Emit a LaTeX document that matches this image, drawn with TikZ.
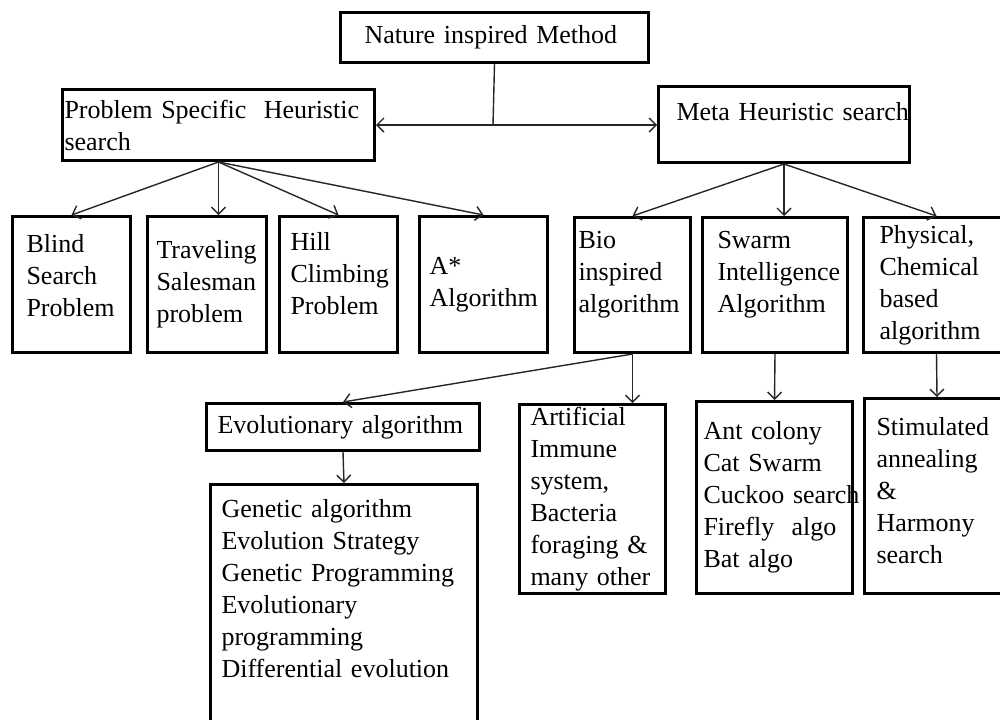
\documentclass[tikz,border=0pt]{standalone}
\usepackage{fontspec}
\setmainfont{Liberation Serif}[WordSpace=0.75]
\usetikzlibrary{arrows.meta}
\hyphenpenalty=10000
\begin{document}
\begin{tikzpicture}[x=0.5pt,y=-0.5pt,
  box/.style={draw=black, line width=1.5pt, rectangle, anchor=north west,
    align=left, inner ysep=0pt, font=\fontsize{13pt}{16pt}\selectfont},
  conn/.style={draw=black!85, line width=0.7pt},
  arr/.style={conn, -{Straight Barb[length=3.5pt,width=7pt]}},
  darr/.style={conn, {Straight Barb[length=3.5pt,width=7pt]}-{Straight Barb[length=3.5pt,width=7pt]}}]
\useasboundingbox (0,0) rectangle (1000,719);
\begin{scope}
\clip (0,0) rectangle (1000,719);
% boxes: inner xsep = pad, text width = w - 2 pad
\node[box, inner xsep=12pt, text width=130pt, minimum height=25pt] (root) at (339,11) {Nature~inspired~Method};
\node[box, inner xsep=1pt, text width=154pt, minimum height=35.5pt] (psh) at (61,88) {Problem~Specific~~Heuristic\\search};
\node[box, inner xsep=9pt, text width=107.5pt, minimum height=38pt] (meta) at (657,85) {\mbox{Meta Heuristic search}\rule[-13pt]{0pt}{0pt}};

\node[box, inner xsep=7pt, text width=45pt, minimum height=68pt] (blind) at (11,215) {Blind\\Search\\Problem\rule[-8.8pt]{0pt}{0pt}};
\node[box, inner xsep=4.5pt, text width=50.5pt, minimum height=68pt] (trav) at (146,215) {Traveling\\Salesman\\problem};
\node[box, inner xsep=5.5pt, text width=48pt, minimum height=68pt] (hill) at (278,215) {Hill\\Climbing\\Problem\rule[-11pt]{0pt}{0pt}};
\node[box, inner xsep=5pt, text width=54pt, minimum height=68pt] (astar) at (418,215) {A*\\Algorithm};

\node[box, inner xsep=2pt, text width=54pt, minimum height=67.5pt] (bio) at (573,216) {Bio\\inspired\\algorithm\rule[-13pt]{0pt}{0pt}};
\node[box, inner xsep=7.5pt, text width=57.5pt, minimum height=67.5pt] (swarm) at (701,216) {Swarm\\Intelligence\\Algorithm\rule[-13pt]{0pt}{0pt}};
\node[box, inner xsep=8pt, text width=57pt, minimum height=67.5pt] (phys) at (862,216) {Physical,\\Chemical\\based\\algorithm};

\node[box, inner xsep=5.5pt, text width=125.5pt, minimum height=23.5pt] (evol) at (205,402) {Evolutionary~algorithm};
\node[box, inner xsep=5.5pt, text width=122.5pt, minimum height=136pt] (gen) at (209,483) {Genetic~algorithm\\Evolution~Strategy\\Genetic~Programming\\Evolutionary\\programming\\Differential~evolution\\~\\~};
\node[box, inner xsep=5.5pt, text width=62pt, minimum height=94.5pt] (art) at (518,403) {Artificial\\Immune\\system,\\Bacteria\\foraging~\&\\many~other};
\node[box, inner xsep=3.5pt, text width=71pt, minimum height=96pt] (ant) at (695,400) {Ant~colony\\Cat~Swarm\\Cuckoo~search\\Firefly~~algo\\Bat~algo};
\node[box, inner xsep=6pt, text width=60.5pt, minimum height=97.5pt] (stim) at (863,397) {Stimulated\\annealing\\\&\\Harmony\\search\rule[-6pt]{0pt}{0pt}};

% connectors
\coordinate (j) at (493,125);
\draw[conn] (root.south) -- (j);
\draw[darr] (psh.east |- j) -- (meta.west |- j);

\draw[arr] (psh.south) -- (blind.north);
\draw[arr] (psh.south) -- (trav.north -| psh.south);
\draw[arr] (psh.south) -- (hill.north);
\draw[arr] (psh.south) -- (astar.north);

\draw[arr] (meta.south) -- (bio.north);
\draw[arr] (meta.south) -- (swarm.north -| meta.south);
\draw[arr] (meta.south) -- (phys.north);

\draw[arr] (bio.south) -- (evol.north);
\draw[arr] (bio.south) -- (art.north -| bio.south);
\draw[arr] (swarm.south) -- (ant.north);
\draw[arr] (phys.south) -- (stim.north);
\draw[arr] (evol.south) -- (gen.north);
\end{scope}
\end{tikzpicture}
\end{document}
